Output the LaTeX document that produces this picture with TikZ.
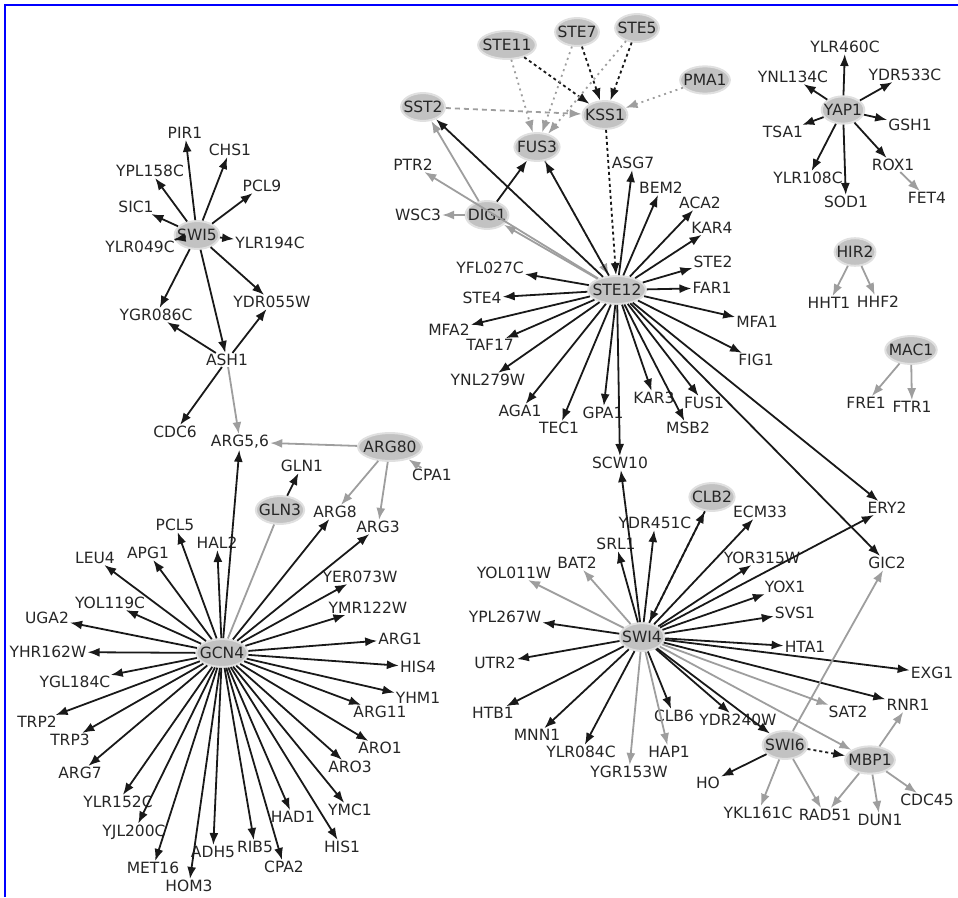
\documentclass[tikz,border=0pt]{standalone}
\usepackage{fontspec}
\setmainfont{DejaVu Sans}
\usetikzlibrary{arrows.meta,shapes.geometric}

\tikzset{
  lbl/.style={font=\fontsize{15.5}{15.5}\selectfont, text=black!85, inner sep=1pt},
  hub/.style={lbl, ellipse, fill=black!24, draw=black!12, line width=2pt,
              inner xsep=-4pt, inner ysep=4pt},
  tip/.style={-{Latex[length=12pt,width=9pt]}},
  blk/.style={tip, draw=black!90, line width=1.8pt},
  gry/.style={tip, draw=black!38, line width=1.8pt},
  gryline/.style={draw=black!38, line width=1.8pt},
  blkdot/.style={blk, dash pattern=on 3pt off 3pt},
  grydot/.style={gry, dash pattern=on 2pt off 4pt},
  grydash/.style={gry, dash pattern=on 5pt off 4pt},
  frame/.style={draw=blue, line width=2.5pt}
}

\begin{document}
\begin{tikzpicture}[x=1pt,y=-1pt]
\useasboundingbox (0,0) rectangle (958,897);
\draw[frame] (5,897) -- (5,5) -- (958,5);

% ---------- SWI5 / ASH1 ----------
\node[hub] (SWI5) at (197,235) {SWI5};
\node[lbl] (PIR1) at (185,133) {PIR1};
\node[lbl] (CHS1) at (230,150) {CHS1};
\node[lbl] (YPL158C) at (150,171) {YPL158C};
\node[lbl] (PCL9) at (262,186) {PCL9};
\node[lbl] (SIC1) at (136,207) {SIC1};
\node[lbl] (YLR194C) at (270,243) {YLR194C};
\node[lbl] (YLR049C) at (140,247) {YLR049C};
\node[lbl] (YGR086C) at (156,315) {YGR086C};
\node[lbl] (YDR055W) at (272,302) {YDR055W};
\node[lbl] (ASH1) at (227,360) {ASH1};
\node[lbl] (CDC6) at (175,432) {CDC6};
\node[lbl] (ARG56) at (240,442) {ARG5,6};

% ---------- ARG80 / GLN3 ----------
\node[hub] (ARG80) at (390,447) {ARG80};
\node[lbl] (CPA1) at (432,475) {CPA1};
\node[lbl] (GLN1) at (302,466) {GLN1};
\node[hub] (GLN3) at (280,510) {GLN3};
\node[lbl] (ARG8) at (335,512) {ARG8};
\node[lbl] (ARG3) at (378,527) {ARG3};

% ---------- GCN4 ----------
\node[hub] (GCN4) at (222,653) {GCN4};
\node[lbl] (PCL5) at (175,525) {PCL5};
\node[lbl] (HAL2) at (217,543) {HAL2};
\node[lbl] (APG1) at (148,553) {APG1};
\node[lbl] (LEU4) at (95,558) {LEU4};
\node[lbl] (YOL119C) at (110,603) {YOL119C};
\node[lbl] (UGA2) at (47,618) {UGA2};
\node[lbl] (YHR162W) at (48,652) {YHR162W};
\node[lbl] (YGL184C) at (75,682) {YGL184C};
\node[lbl] (TRP2) at (37,722) {TRP2};
\node[lbl] (TRP3) at (70,740) {TRP3};
\node[lbl] (ARG7) at (80,773) {ARG7};
\node[lbl] (YLR152C) at (118,802) {YLR152C};
\node[lbl] (YJL200C) at (134,832) {YJL200C};
\node[lbl] (MET16) at (153,868) {MET16};
\node[lbl] (HOM3) at (189,886) {HOM3};
\node[lbl] (ADH5) at (213,852) {ADH5};
\node[lbl] (RIB5) at (255,847) {RIB5};
\node[lbl] (CPA2) at (284,867) {CPA2};
\node[lbl] (HAD1) at (293,817) {HAD1};
\node[lbl] (HIS1) at (342,847) {HIS1};
\node[lbl] (YMC1) at (350,810) {YMC1};
\node[lbl] (ARO3) at (350,767) {ARO3};
\node[lbl] (ARO1) at (380,748) {ARO1};
\node[lbl] (ARG11) at (380,712) {ARG11};
\node[lbl] (YHM1) at (418,698) {YHM1};
\node[lbl] (HIS4) at (418,667) {HIS4};
\node[lbl] (ARG1) at (400,639) {ARG1};
\node[lbl] (YMR122W) at (368,608) {YMR122W};
\node[lbl] (YER073W) at (360,577) {YER073W};

% ---------- STE12 ----------
\node[hub] (STE12) at (617,290) {STE12};
\node[hub] (STE11) at (507,45) {STE11};
\node[hub] (STE7) at (577,32) {STE7};
\node[hub] (STE5) at (637,28) {STE5};
\node[hub] (PMA1) at (705,80) {PMA1};
\node[hub] (KSS1) at (605,115) {KSS1};
\node[hub] (SST2) at (423,107) {SST2};
\node[hub] (FUS3) at (537,147) {FUS3};
\node[lbl] (PTR2) at (413,165) {PTR2};
\node[lbl] (WSC3) at (418,215) {WSC3};
\node[hub] (DIG1) at (487,215) {DIG1};
\node[lbl] (ASG7) at (633,163) {ASG7};
\node[lbl] (BEM2) at (661,188) {BEM2};
\node[lbl] (ACA2) at (700,203) {ACA2};
\node[lbl] (KAR4) at (712,228) {KAR4};
\node[lbl] (STE2) at (713,262) {STE2};
\node[lbl] (FAR1) at (712,288) {FAR1};
\node[lbl] (MFA1) at (757,322) {MFA1};
\node[lbl] (FIG1) at (756,360) {FIG1};
\node[lbl] (FUS1) at (704,403) {FUS1};
\node[lbl] (MSB2) at (688,428) {MSB2};
\node[lbl] (KAR3) at (654,398) {KAR3};
\node[lbl] (GPA1) at (603,413) {GPA1};
\node[lbl] (TEC1) at (559,428) {TEC1};
\node[lbl] (AGA1) at (520,411) {AGA1};
\node[lbl] (YNL279W) at (488,380) {YNL279W};
\node[lbl] (TAF17) at (490,345) {TAF17};
\node[lbl] (MFA2) at (449,330) {MFA2};
\node[lbl] (STE4) at (482,298) {STE4};
\node[lbl] (YFL027C) at (490,268) {YFL027C};
\node[lbl] (SCW10) at (620,463) {SCW10};

% ---------- YAP1, HIR2, MAC1 ----------
\node[hub] (YAP1) at (843,110) {YAP1};
\node[lbl] (YLR460C) at (845,47) {YLR460C};
\node[lbl] (YNL134C) at (793,77) {YNL134C};
\node[lbl] (YDR533C) at (905,75) {YDR533C};
\node[lbl] (TSA1) at (783,132) {TSA1};
\node[lbl] (GSH1) at (910,125) {GSH1};
\node[lbl] (YLR108C) at (808,178) {YLR108C};
\node[lbl] (SOD1) at (846,202) {SOD1};
\node[lbl] (ROX1) at (893,165) {ROX1};
\node[lbl] (FET4) at (927,198) {FET4};
\node[hub] (HIR2) at (855,252) {HIR2};
\node[lbl] (HHT1) at (829,303) {HHT1};
\node[lbl] (HHF2) at (878,302) {HHF2};
\node[hub] (MAC1) at (911,350) {MAC1};
\node[lbl] (FRE1) at (866,403) {FRE1};
\node[lbl] (FTR1) at (912,407) {FTR1};

% ---------- SWI4 / SWI6 / MBP1 ----------
\node[hub] (SWI4) at (642,637) {SWI4};
\node[hub] (CLB2) at (712,497) {CLB2};
\node[lbl] (ECM33) at (760,512) {ECM33};
\node[lbl] (YDR451C) at (655,523) {YDR451C};
\node[lbl] (SRL1) at (616,544) {SRL1};
\node[lbl] (BAT2) at (577,563) {BAT2};
\node[lbl] (YOL011W) at (514,573) {YOL011W};
\node[lbl] (YPL267W) at (505,617) {YPL267W};
\node[lbl] (UTR2) at (495,663) {UTR2};
\node[lbl] (HTB1) at (493,713) {HTB1};
\node[lbl] (MNN1) at (537,735) {MNN1};
\node[lbl] (YLR084C) at (581,752) {YLR084C};
\node[lbl] (YGR153W) at (629,772) {YGR153W};
\node[lbl] (HAP1) at (669,752) {HAP1};
\node[lbl] (CLB6) at (674,716) {CLB6};
\node[lbl] (YDR240W) at (738,720) {YDR240W};
\node[hub] (SWI6) at (785,745) {SWI6};
\node[lbl] (HO) at (708,783) {HO};
\node[lbl] (YKL161C) at (758,813) {YKL161C};
\node[lbl] (RAD51) at (825,815) {RAD51};
\node[lbl] (DUN1) at (880,820) {DUN1};
\node[lbl] (CDC45) at (927,800) {CDC45};
\node[hub] (MBP1) at (870,760) {MBP1};
\node[lbl] (SAT2) at (848,712) {SAT2};
\node[lbl] (RNR1) at (908,705) {RNR1};
\node[lbl] (EXG1) at (932,673) {EXG1};
\node[lbl] (HTA1) at (805,647) {HTA1};
\node[lbl] (SVS1) at (795,613) {SVS1};
\node[lbl] (YOX1) at (785,587) {YOX1};
\node[lbl] (YOR315W) at (762,558) {YOR315W};
\node[lbl] (ERY2) at (887,508) {ERY2};
\node[lbl] (GIC2) at (887,563) {GIC2};

% ---------- connectors ----------
\foreach \t in {PIR1,CHS1,YPL158C,PCL9,SIC1,YLR194C,YLR049C,YGR086C,YDR055W,ASH1}
  \draw[blk] (SWI5) -- (\t);
\foreach \t in {YGR086C,YDR055W,CDC6} \draw[blk] (ASH1) -- (\t);
\draw[gry] (ASH1) -- (ARG56);
\draw[gry] (ARG80) -- (ARG56);
\draw[gry] (ARG80) -- (ARG8);
\draw[gry] (ARG80) -- (ARG3);
\draw[gry] (CPA1) -- (ARG80);
\draw[blk] (GLN3) -- (GLN1);
\draw[gryline] (GCN4) -- (GLN3);

\foreach \t in {ARG56,PCL5,HAL2,APG1,LEU4,YOL119C,UGA2,YHR162W,YGL184C,TRP2,TRP3,
                ARG7,YLR152C,YJL200C,MET16,HOM3,ADH5,RIB5,CPA2,HAD1,HIS1,YMC1,ARO3,
                ARO1,ARG11,YHM1,HIS4,ARG1,YMR122W,YER073W,ARG3,ARG8}
  \draw[blk] (GCN4) -- (\t);

\foreach \s in {STE11,STE7,STE5} {
  \draw[blkdot] (\s) -- (KSS1);
  \draw[grydot] (\s) -- (FUS3);
}
\draw[grydot] (PMA1) -- (KSS1);
\draw[grydash] (SST2) -- (KSS1);
\draw[blkdot] (KSS1) -- (STE12);
\draw[grydot] (FUS3) -- (STE12);
\draw[blk] (DIG1) -- (FUS3);
\draw[gry] (DIG1) -- (SST2);
\draw[gry] (DIG1) -- (WSC3);
\draw[gry] (STE12) -- (DIG1);
\draw[gry] (STE12) -- (PTR2);
\foreach \t in {SST2,FUS3,ASG7,BEM2,ACA2,KAR4,STE2,FAR1,MFA1,FIG1,FUS1,MSB2,KAR3,GPA1,
                TEC1,AGA1,YNL279W,TAF17,MFA2,STE4,YFL027C,SCW10,ERY2,GIC2}
  \draw[blk] (STE12) -- (\t);

\foreach \t in {YLR460C,YNL134C,YDR533C,TSA1,GSH1,YLR108C,SOD1,ROX1}
  \draw[blk] (YAP1) -- (\t);
\draw[gry] (ROX1) -- (FET4);
\draw[gry] (HIR2) -- (HHT1);
\draw[gry] (HIR2) -- (HHF2);
\draw[gry] (MAC1) -- (FRE1);
\draw[gry] (MAC1) -- (FTR1);

\foreach \t in {SCW10,YDR451C,SRL1,CLB2,ECM33,YOR315W,YOX1,SVS1,HTA1,EXG1,RNR1,ERY2,
                YPL267W,UTR2,HTB1,MNN1,YLR084C,CLB6,YDR240W,SWI6}
  \draw[blk] (SWI4) -- (\t);
\foreach \t in {BAT2,YOL011W,YGR153W,HAP1,SAT2,MBP1}
  \draw[gry] (SWI4) -- (\t);
\draw[blkdot] (CLB2) -- (SWI4);
\draw[blk] (SWI6) -- (HO);
\draw[blkdot] (SWI6) -- (MBP1);
\foreach \t in {YKL161C,RAD51,GIC2} \draw[gry] (SWI6) -- (\t);
\foreach \t in {RNR1,RAD51,DUN1,CDC45} \draw[gry] (MBP1) -- (\t);
\end{tikzpicture}
\end{document}
